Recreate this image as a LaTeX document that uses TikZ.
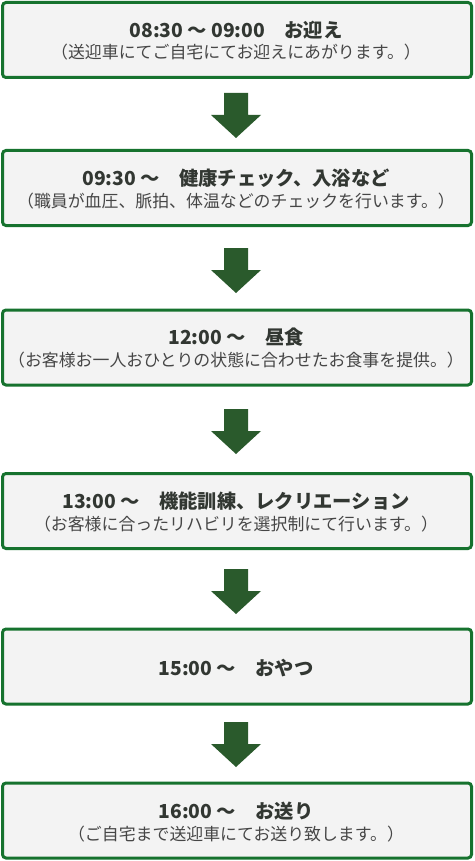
\documentclass[tikz,border=0pt]{standalone}
\usepackage{fontspec}
\newfontfamily\jp{Noto Sans CJK JP}
\definecolor{boxgreen}{RGB}{22,114,46}
\definecolor{boxfill}{RGB}{243,243,243}
\definecolor{arrowgreen}{RGB}{42,90,44}
\definecolor{titlecol}{RGB}{50,55,50}
\definecolor{subcol}{RGB}{70,70,70}
\tikzset{
  stepbox/.style={draw=boxgreen, line width=3pt, fill=boxfill, rounded corners=3.5pt,
    minimum width=469pt, minimum height=75pt, inner sep=0pt, outer sep=0pt},
  titletext/.style={font=\jp\bfseries\fontsize{19.3}{21}\selectfont, text=titlecol, inner sep=0pt, anchor=base},
  subtext/.style={font=\jp\fontsize{16.9}{18}\selectfont, text=subcol, inner sep=0pt, anchor=base},
  flowarrow/.style={fill=arrowgreen}
}
\newcommand\flowdown[1]{%
  \fill[flowarrow, shift={(#1)}] (-12,0) -- (12,0) -- (12,22) -- (25,22) -- (0,45) -- (-25,22) -- (-12,22) -- cycle;}
\begin{document}
\begin{tikzpicture}[x=1pt,y=-1pt]
\fill[white] (0,0) rectangle (474,861);
\useasboundingbox (0,0) rectangle (474,861);

\node[stepbox] (b1) at (237,40) {};
\node[stepbox] (b2) at (237,188) {};
\node[stepbox] (b3) at (237,347.5) {};
\node[stepbox] (b4) at (237,511) {};
\node[stepbox] (b5) at (237,666.5) {};
\node[stepbox] (b6) at (237,820.5) {};

\node[titletext] (t1) at (236,37.8) {08:30 ～ 09:00　お迎え};
\node[subtext] (s1) at (236,59) {（送迎車にてご自宅にてお迎えにあがります。）};

\node[titletext] (t2) at (236,185.8) {09:30 ～　健康チェック、入浴など};
\node[subtext] (s2) at (236,207) {（職員が血圧、脈拍、体温などのチェックを行います。）};

\node[titletext] (t3) at (236,344.8) {12:00 ～　昼食};
\node[subtext] (s3) at (236,366) {（お客様お一人おひとりの状態に合わせたお食事を提供。）};

\node[titletext] (t4) at (236,508.8) {13:00 ～　機能訓練、レクリエーション};
\node[subtext] (s4) at (236,530) {（お客様に合ったリハビリを選択制にて行います。）};

\node[titletext] (t5) at (236,675.8) {15:00 ～　おやつ};

\node[titletext] (t6) at (236,818.8) {16:00 ～　お送り};
\node[subtext] (s6) at (236,840) {（ご自宅まで送迎車にてお送り致します。）};

\coordinate (a1) at (236,93);
\coordinate (a2) at (236,248);
\coordinate (a3) at (236,409);
\coordinate (a4) at (236,569);
\coordinate (a5) at (236,722);
\flowdown{a1}
\flowdown{a2}
\flowdown{a3}
\flowdown{a4}
\flowdown{a5}
\end{tikzpicture}
\end{document}
